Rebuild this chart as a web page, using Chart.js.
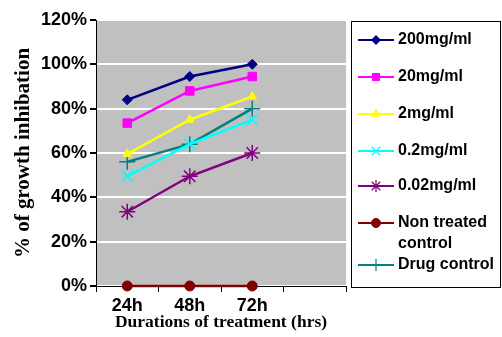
<!DOCTYPE html>
<html>
<head>
<meta charset="utf-8">
<script src="https://cdn.jsdelivr.net/npm/chart.js@4"></script>
<style>
  html, body { margin: 0; padding: 0; background: #fff; }
  #wrap { width: 502px; height: 337px; position: relative; }
</style>
</head>
<body>
<div id="wrap"><canvas id="chart"></canvas></div>
<script>
// === Data ===
const durations = ['24h', '48h', '72h', ''];
const seriesNames = ['200mg/ml', '20mg/ml', '2mg/ml', '0.2mg/ml', '0.02mg/ml', ['Non treated', 'control'], 'Drug control'];
const conc200 = [84, 94.5, 100];
const conc20 = [73.5, 88, 94.5];
const conc2 = [59.5, 75, 85.5];
const conc02 = [49.5, 64, 75];
const conc002 = [33.5, 49.5, 60];
const nonTreated = [0, 0, 0];
const drugControl = [56, 64, 80];

const colors = ['#000080', '#FF00FF', '#FFFF00', '#00FFFF', '#800080', '#800000', '#008080'];
const shapes = ['rectRot', 'rect', 'triangle', 'crossRot', 'star', 'circle', 'cross'];
const values = [conc200, conc20, conc2, conc02, conc002, nonTreated, drugControl];

const isCrossy = s => s === 'star' || s.startsWith('cross');

const datasets = values.map((v, i) => ({
  label: Array.isArray(seriesNames[i]) ? seriesNames[i].join(' ') : seriesNames[i],
  data: v,
  borderColor: colors[i],
  backgroundColor: colors[i],
  borderWidth: 2.5,
  pointStyle: shapes[i],
  pointRadius: shapes[i] === 'rect' ? 6 : (isCrossy(shapes[i]) ? 8 : 5),
  pointBorderWidth: isCrossy(shapes[i]) ? 1.5 : 1,
  tension: 0,
  clip: false
}));

// === Gray plot background ===
const plotBg = {
  id: 'plotBg',
  beforeDraw(chart) {
    const { ctx, chartArea: a } = chart;
    ctx.save();
    ctx.fillStyle = '#C0C0C0';
    ctx.fillRect(a.left, a.top, a.right - a.left, a.bottom - a.top);
    ctx.restore();
  }
};

// === Boxed legend on the right ===
const boxLegend = {
  id: 'boxLegend',
  afterDraw(chart) {
    const ctx = chart.ctx;
    const left = 351, top = 21, right = 501, bottom = 287;
    ctx.save();
    ctx.strokeStyle = '#000';
    ctx.lineWidth = 1;
    ctx.strokeRect(left + 0.5, top + 0.5, right - left - 1, bottom - top);
    const rowsY = [40, 77, 114, 151, 186, 223, 265];
    ctx.font = 'bold 16px "Liberation Sans", Arial, sans-serif';
    ctx.textBaseline = 'middle';
    rowsY.forEach((y, i) => {
      const ds = datasets[i];
      ctx.strokeStyle = colors[i];
      ctx.lineWidth = 2;
      ctx.beginPath();
      ctx.moveTo(358, y);
      ctx.lineTo(394, y);
      ctx.stroke();
      ctx.fillStyle = colors[i];
      ctx.lineWidth = isCrossy(ds.pointStyle) ? 1.2 : 1;
      const r = ds.pointStyle === 'rect' ? 5 : (isCrossy(ds.pointStyle) ? 6 : 4.5);
      Chart.helpers.drawPoint(ctx, { pointStyle: ds.pointStyle, radius: r, borderWidth: ctx.lineWidth, rotation: 0 }, 376, y);
      ctx.fillStyle = '#000';
      const name = seriesNames[i];
      if (Array.isArray(name)) {
        ctx.fillText(name[0], 398, y);
        ctx.fillText(name[1], 398, y + 21);
      } else {
        ctx.fillText(name, 398, y);
      }
    });
    ctx.restore();
  }
};

new Chart(document.getElementById('chart'), {
  type: 'line',
  data: { labels: durations, datasets },
  plugins: [plotBg, boxLegend],
  options: {
    responsive: true,
    maintainAspectRatio: false,
    animation: false,
    layout: { padding: { top: 20, right: 156, left: 0, bottom: 0 } },
    plugins: { legend: { display: false }, tooltip: { enabled: false } },
    scales: {
      x: {
        offset: true,
        afterFit: s => { s.height = 51; },
        grid: { offset: true, drawOnChartArea: false, tickColor: '#000', tickLength: 6, lineWidth: 1 },
        border: { color: '#000', width: 1 },
        ticks: {
          color: '#000', padding: 3,
          font: { family: '"Liberation Sans", Arial, sans-serif', weight: 'bold', size: 18 }
        },
        title: {
          display: true, text: 'Durations of treatment (hrs)', color: '#000', padding: { top: 0 },
          font: { family: '"Liberation Serif", "Times New Roman", serif', weight: 'bold', size: 17.5 }
        }
      },
      y: {
        min: 0, max: 120,
        afterFit: s => { s.width = 96; },
        grid: { color: '#FFFFFF', lineWidth: 2, tickColor: '#000', tickLength: 6, drawTicks: true },
        border: { color: '#000', width: 1 },
        ticks: {
          stepSize: 20, color: '#000', padding: 3,
          callback: v => v + '%',
          font: { family: '"Liberation Sans", Arial, sans-serif', weight: 'bold', size: 18 }
        },
        title: {
          display: true, text: '% of growth inhibation', color: '#000', padding: { top: 11, bottom: 0 },
          font: { family: '"Liberation Serif", "Times New Roman", serif', weight: 'bold', size: 21 }
        }
      }
    }
  }
});
</script>
</body>
</html>
